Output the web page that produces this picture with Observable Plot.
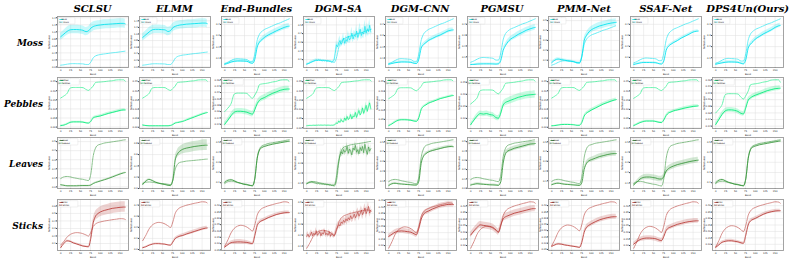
<!DOCTYPE html>
<html><head><meta charset="utf-8">
<script src="https://cdn.jsdelivr.net/npm/d3@7"></script>
<script src="https://cdn.jsdelivr.net/npm/@observablehq/plot@0.6"></script>
<style>
body{margin:0;background:#fff;}
#fig{position:relative;width:793px;height:258px;overflow:hidden;background:#fff;}
.ct{position:absolute;font-family:"DejaVu Serif";font-weight:bold;font-style:italic;font-size:10px;white-space:nowrap;transform:translate(-50%,-50%);color:#000;}
.rl{position:absolute;font-family:"DejaVu Serif";font-weight:bold;font-style:italic;font-size:9px;white-space:nowrap;transform:translate(-100%,-50%);color:#000;}
.panel{position:absolute;}
.panel svg{overflow:visible;}
</style></head><body><div id="fig"></div><script>
const methods = ["SCLSU","ELMM","End-Bundles","DGM-SA","DGM-CNN","PGMSU","PMM-Net","SSAF-Net","DPS4Un(Ours)"];
const materials = ["Moss","Pebbles","Leaves","Sticks"];
const colors = ["#00e3ee","#00ec78","#36963a","#b83a36"];
const xTicks = [0,25,50,75,100,125,150];
const bands = [0,8,16,24,32,40,48,56,64,70,76,82,88,94,100,110,120,130,140,150,158,163];
const denseBands = [0,3,6,9,12,15,18,21,24,27,30,33,36,39,42,45,48,51,54,57,60,63,66,69,72,75,78,81,84,87,90,93,96,99,102,105,108,111,114,117,120,123,126,129,132,135,138,141,144,147,150,153,156,159,162];

// ground-truth mean spectra
const gtMoss = [0.050,0.062,0.078,0.090,0.094,0.092,0.090,0.086,0.070,0.070,0.138,0.258,0.314,0.338,0.354,0.370,0.386,0.402,0.414,0.430,0.442,0.450];
const gtPebbles = [0.160,0.171,0.185,0.215,0.218,0.218,0.218,0.217,0.207,0.202,0.212,0.226,0.245,0.247,0.248,0.250,0.253,0.255,0.259,0.260,0.260,0.253];
const gtLeaves = [0.0925,0.1105,0.115,0.1105,0.1015,0.0948,0.088,0.0835,0.0745,0.070,0.142,0.340,0.430,0.4615,0.4705,0.484,0.4908,0.4975,0.5043,0.511,0.5178,0.520];
const gtSticks = [0.080,0.129,0.185,0.220,0.2375,0.2445,0.241,0.2305,0.213,0.199,0.248,0.325,0.360,0.3775,0.3863,0.3985,0.4073,0.416,0.423,0.430,0.4283,0.4195];

// Moss estimates
const moss_SCLSU = [0.860,0.936,1.012,1.058,1.065,1.065,1.058,1.043,1.005,1.027,1.103,1.149,1.172,1.187,1.195,1.210,1.217,1.225,1.233,1.240,1.240,1.225];
const moss_SCLSU_sd = [0.10,0.11,0.12,0.12,0.12,0.12,0.12,0.12,0.12,0.12,0.13,0.13,0.13,0.13,0.13,0.13,0.13,0.13,0.13,0.13,0.13,0.13];
const moss_ELMM = [0.894,0.977,1.059,1.125,1.141,1.141,1.133,1.125,1.075,1.100,1.191,1.232,1.257,1.273,1.281,1.298,1.306,1.314,1.322,1.331,1.331,1.314];
const moss_ELMM_sd = [0.11,0.12,0.13,0.13,0.13,0.13,0.13,0.13,0.13,0.13,0.13,0.13,0.13,0.13,0.13,0.13,0.13,0.13,0.13,0.13,0.13,0.13];
const moss_EndB = [0.044,0.053,0.064,0.071,0.074,0.074,0.073,0.071,0.058,0.053,0.089,0.197,0.243,0.265,0.283,0.306,0.324,0.342,0.358,0.373,0.382,0.385];
const moss_EndB_sd = [0.008,0.010,0.012,0.013,0.013,0.013,0.013,0.012,0.011,0.011,0.014,0.018,0.020,0.021,0.022,0.022,0.023,0.023,0.023,0.023,0.023,0.023];
const moss_DGMSA = [0.046,0.052,0.057,0.068,0.074,0.080,0.085,0.091,0.097,0.091,0.097,0.091,0.094,0.085,0.091,0.085,0.088,0.080,0.085,0.080,0.083,0.074,0.080,0.091,0.170,0.271,0.248,0.293,0.321,0.276,0.304,0.349,0.287,0.332,0.310,0.372,0.327,0.349,0.405,0.338,0.383,0.366,0.428,0.355,0.400,0.450,0.377,0.416,0.394,0.484,0.405,0.456,0.422,0.495,0.416];
const moss_DGMSA_sd = [0.010,0.010,0.011,0.012,0.012,0.013,0.013,0.013,0.014,0.013,0.013,0.012,0.012,0.012,0.012,0.011,0.011,0.011,0.011,0.010,0.010,0.010,0.010,0.012,0.03,0.045,0.035,0.04,0.055,0.035,0.045,0.06,0.04,0.05,0.04,0.065,0.045,0.05,0.07,0.045,0.055,0.05,0.07,0.05,0.06,0.075,0.05,0.06,0.055,0.075,0.055,0.065,0.06,0.075,0.06];
const moss_DGMCNN = [0.044,0.051,0.058,0.062,0.065,0.065,0.064,0.062,0.053,0.051,0.089,0.188,0.220,0.238,0.256,0.274,0.292,0.306,0.324,0.342,0.349,0.351];
const moss_DGMCNN_sd = [0.008,0.009,0.010,0.011,0.011,0.011,0.011,0.010,0.010,0.010,0.012,0.015,0.016,0.017,0.017,0.018,0.018,0.018,0.018,0.018,0.018,0.018];
const moss_PGMSU = [0.029,0.030,0.033,0.034,0.035,0.035,0.035,0.034,0.033,0.035,0.067,0.159,0.205,0.238,0.261,0.284,0.307,0.325,0.344,0.358,0.367,0.371];
const moss_PGMSU_sd = [0.006,0.007,0.008,0.008,0.008,0.008,0.008,0.008,0.008,0.008,0.012,0.018,0.021,0.023,0.024,0.025,0.026,0.026,0.026,0.026,0.026,0.026];
const moss_PMM = [0.075,0.101,0.112,0.106,0.101,0.095,0.090,0.084,0.076,0.074,0.134,0.297,0.352,0.385,0.407,0.428,0.445,0.456,0.467,0.475,0.480,0.483];
const moss_PMM_sd = [0.010,0.012,0.013,0.013,0.012,0.012,0.012,0.011,0.011,0.011,0.015,0.025,0.030,0.032,0.033,0.034,0.035,0.035,0.035,0.035,0.035,0.035];
const moss_SSAF = [0.035,0.042,0.049,0.053,0.053,0.053,0.052,0.051,0.042,0.039,0.067,0.164,0.201,0.219,0.233,0.252,0.275,0.293,0.311,0.330,0.337,0.339];
const moss_SSAF_sd = [0.006,0.007,0.008,0.008,0.008,0.008,0.008,0.008,0.007,0.007,0.008,0.010,0.011,0.011,0.011,0.012,0.012,0.012,0.012,0.012,0.012,0.012];
const moss_DPS = [0.041,0.048,0.054,0.059,0.062,0.062,0.061,0.059,0.050,0.045,0.082,0.186,0.223,0.245,0.268,0.291,0.314,0.332,0.350,0.373,0.386,0.391];
const moss_DPS_sd = [0.008,0.009,0.010,0.011,0.011,0.011,0.011,0.010,0.010,0.010,0.012,0.015,0.017,0.018,0.018,0.019,0.019,0.019,0.019,0.019,0.019,0.019];

// Pebbles estimates
const peb_SCLSU = [0.0079,0.0106,0.0175,0.0257,0.0284,0.0284,0.0284,0.0271,0.0230,0.0216,0.0312,0.0504,0.0558,0.0586,0.0613,0.0682,0.0750,0.0805,0.0860,0.0915,0.0942,0.0942];
const peb_SCLSU_sd = [0.003,0.003,0.003,0.004,0.004,0.004,0.004,0.004,0.004,0.004,0.004,0.005,0.006,0.006,0.006,0.007,0.007,0.007,0.007,0.007,0.007,0.007];
const peb_ELMM = [0.0120,0.0093,0.0079,0.0079,0.0079,0.0079,0.0079,0.0079,0.0079,0.0093,0.0147,0.0230,0.0257,0.0284,0.0312,0.0394,0.0476,0.0558,0.0641,0.0723,0.0778,0.0805];
const peb_ELMM_sd = [0.002,0.002,0.002,0.002,0.002,0.002,0.002,0.002,0.002,0.002,0.002,0.003,0.003,0.003,0.003,0.003,0.004,0.004,0.004,0.004,0.004,0.004];
const peb_EndB = [0.120,0.133,0.147,0.158,0.161,0.161,0.160,0.158,0.154,0.152,0.166,0.185,0.196,0.201,0.204,0.211,0.217,0.222,0.227,0.230,0.231,0.231];
const peb_EndB_sd = [0.006,0.007,0.008,0.009,0.009,0.009,0.009,0.009,0.009,0.009,0.009,0.009,0.009,0.009,0.009,0.009,0.009,0.009,0.009,0.009,0.009,0.009];
const peb_DGMSA = [0.0106,0.0115,0.0120,0.0125,0.0120,0.0128,0.0134,0.0125,0.0136,0.0131,0.0139,0.0134,0.0142,0.0136,0.0134,0.0142,0.0136,0.0131,0.0139,0.0134,0.0128,0.0136,0.0131,0.0147,0.0175,0.0257,0.0230,0.0367,0.0284,0.0449,0.0339,0.0312,0.0531,0.0394,0.0613,0.0449,0.0504,0.0723,0.0476,0.0641,0.0586,0.0832,0.0558,0.0750,0.0942,0.0695,0.0805,0.1079,0.0778,0.0969,0.1216,0.0887,0.1134,0.1353,0.1024];
const peb_DGMSA_sd = [0.002,0.002,0.002,0.002,0.002,0.002,0.002,0.002,0.002,0.002,0.002,0.002,0.002,0.002,0.002,0.002,0.002,0.002,0.002,0.002,0.002,0.002,0.002,0.002,0.003,0.005,0.004,0.008,0.005,0.009,0.006,0.006,0.011,0.007,0.012,0.008,0.009,0.013,0.008,0.012,0.010,0.015,0.010,0.013,0.016,0.011,0.013,0.017,0.012,0.015,0.018,0.013,0.016,0.018,0.014];
const peb_DGMCNN = [0.0167,0.0257,0.0367,0.0449,0.0476,0.0476,0.0471,0.0449,0.0408,0.0394,0.0586,0.1024,0.1189,0.1271,0.1353,0.1435,0.1517,0.1600,0.1654,0.1709,0.1750,0.1764];
const peb_DGMCNN_sd = [0.003,0.003,0.004,0.004,0.004,0.004,0.004,0.004,0.004,0.004,0.004,0.005,0.005,0.005,0.005,0.005,0.005,0.005,0.005,0.005,0.005,0.005];
const peb_PGMSU = [0.0737,0.0927,0.1095,0.1200,0.1179,0.1200,0.1158,0.1137,0.1032,0.1011,0.1222,0.1558,0.1664,0.1706,0.1748,0.1811,0.1874,0.1916,0.1958,0.1979,0.1990,0.2000];
const peb_PGMSU_sd = [0.006,0.008,0.010,0.011,0.011,0.011,0.011,0.011,0.011,0.011,0.012,0.013,0.014,0.014,0.015,0.015,0.015,0.015,0.015,0.015,0.015,0.015];
const peb_PMM = [0.0079,0.0093,0.0120,0.0147,0.0153,0.0153,0.0147,0.0134,0.0106,0.0106,0.0257,0.0613,0.0778,0.0860,0.0942,0.1052,0.1161,0.1271,0.1353,0.1435,0.1490,0.1517];
const peb_PMM_sd = [0.002,0.002,0.002,0.002,0.002,0.002,0.002,0.002,0.002,0.002,0.004,0.006,0.007,0.007,0.008,0.008,0.008,0.008,0.008,0.008,0.008,0.008];
const peb_SSAF = [0.0120,0.0202,0.0284,0.0339,0.0367,0.0367,0.0367,0.0339,0.0298,0.0284,0.0421,0.0668,0.0805,0.0860,0.0915,0.0969,0.1024,0.1079,0.1120,0.1161,0.1175,0.1189];
const peb_SSAF_sd = [0.003,0.003,0.004,0.004,0.004,0.004,0.004,0.004,0.004,0.004,0.005,0.006,0.007,0.007,0.007,0.007,0.008,0.008,0.008,0.008,0.008,0.008];
const peb_DPS = [0.1249,0.1402,0.1554,0.1661,0.1692,0.1692,0.1676,0.1646,0.1585,0.1570,0.1753,0.1982,0.2058,0.2104,0.2135,0.2180,0.2226,0.2272,0.2303,0.2333,0.2341,0.2348];
const peb_DPS_sd = [0.005,0.006,0.007,0.007,0.007,0.007,0.007,0.007,0.007,0.007,0.007,0.007,0.007,0.007,0.007,0.007,0.007,0.007,0.007,0.007,0.007,0.007];

// Leaves estimates
const leaf_SCLSU = [0.0228,0.0173,0.0117,0.0117,0.0117,0.0117,0.0134,0.0145,0.0145,0.0145,0.0200,0.0367,0.0478,0.0562,0.0645,0.0784,0.0923,0.1089,0.1256,0.1423,0.1534,0.1589];
const leaf_SCLSU_sd = [0.004,0.004,0.004,0.004,0.004,0.004,0.004,0.004,0.004,0.004,0.004,0.004,0.005,0.005,0.005,0.005,0.005,0.005,0.006,0.006,0.006,0.006];
const leaf_ELMM = [0.070,0.1315,0.160,0.141,0.1126,0.0936,0.0794,0.070,0.0558,0.0510,0.1505,0.5008,0.6145,0.6618,0.6902,0.7139,0.7281,0.7423,0.7518,0.7613,0.766,0.766];
const leaf_ELMM_sd = [0.010,0.012,0.012,0.010,0.010,0.010,0.010,0.010,0.010,0.010,0.020,0.050,0.070,0.075,0.080,0.085,0.090,0.090,0.090,0.095,0.095,0.095];
const leaf_EndB = [0.104,0.1235,0.1284,0.1186,0.1041,0.0943,0.0846,0.0797,0.0724,0.0700,0.1381,0.3376,0.4203,0.4446,0.4543,0.4665,0.4762,0.4835,0.4908,0.4981,0.5030,0.5054];
const leaf_EndB_sd = [0.004,0.005,0.005,0.005,0.004,0.004,0.004,0.004,0.004,0.004,0.006,0.008,0.007,0.006,0.006,0.006,0.006,0.006,0.006,0.006,0.006,0.006];
const leaf_DGMSA = [0.0916,0.0970,0.1024,0.1051,0.1078,0.1051,0.1024,0.0997,0.0970,0.0916,0.0943,0.0889,0.0916,0.0862,0.0889,0.0835,0.0862,0.0808,0.0835,0.0781,0.0808,0.0754,0.0781,0.0754,0.0916,0.1563,0.2533,0.3180,0.3773,0.4150,0.3935,0.4366,0.4096,0.4258,0.4689,0.3988,0.4420,0.4204,0.3827,0.4527,0.4312,0.4797,0.4096,0.4366,0.3935,0.4581,0.4258,0.4689,0.4042,0.4905,0.4312,0.3881,0.4635,0.4204,0.4473];
const leaf_DGMSA_sd = [0.008,0.008,0.009,0.009,0.009,0.009,0.009,0.009,0.008,0.008,0.008,0.008,0.008,0.008,0.008,0.008,0.008,0.008,0.008,0.008,0.008,0.008,0.008,0.008,0.010,0.020,0.030,0.032,0.035,0.040,0.030,0.045,0.035,0.030,0.045,0.035,0.040,0.030,0.035,0.045,0.030,0.045,0.035,0.040,0.030,0.045,0.035,0.040,0.035,0.045,0.030,0.035,0.045,0.030,0.040];
const leaf_DGMCNN = [0.0517,0.0700,0.0753,0.0700,0.0674,0.0648,0.0622,0.0596,0.0569,0.0569,0.0962,0.2794,0.3526,0.3788,0.3945,0.4102,0.4207,0.4311,0.4416,0.4494,0.4520,0.4494];
const leaf_DGMCNN_sd = [0.006,0.007,0.007,0.007,0.006,0.006,0.006,0.006,0.006,0.006,0.008,0.012,0.012,0.012,0.012,0.012,0.012,0.012,0.012,0.012,0.012,0.012];
const leaf_PGMSU = [0.0330,0.0416,0.0473,0.0444,0.0416,0.0387,0.0359,0.0347,0.0330,0.0302,0.0700,0.2694,0.3719,0.4004,0.4118,0.4289,0.4403,0.4517,0.4631,0.4745,0.4773,0.4802];
const leaf_PGMSU_sd = [0.008,0.009,0.010,0.010,0.009,0.009,0.009,0.009,0.009,0.009,0.012,0.020,0.022,0.023,0.024,0.025,0.025,0.025,0.025,0.025,0.025,0.025];
const leaf_PMM = [0.0596,0.0700,0.0753,0.0700,0.0648,0.0622,0.0596,0.0569,0.0543,0.0517,0.0805,0.2166,0.2794,0.3055,0.3160,0.3317,0.3474,0.3578,0.3683,0.3762,0.3788,0.3788];
const leaf_PMM_sd = [0.006,0.007,0.008,0.008,0.007,0.007,0.007,0.007,0.007,0.007,0.010,0.018,0.022,0.024,0.025,0.026,0.026,0.026,0.026,0.026,0.026,0.026];
const leaf_SSAF = [0.0797,0.1087,0.1378,0.1523,0.1571,0.1571,0.1523,0.1474,0.1378,0.1378,0.1620,0.2152,0.2394,0.2539,0.2636,0.2781,0.2878,0.2975,0.3071,0.3144,0.3192,0.3216];
const leaf_SSAF_sd = [0.012,0.016,0.020,0.024,0.026,0.027,0.028,0.028,0.028,0.028,0.028,0.028,0.028,0.028,0.028,0.028,0.028,0.028,0.028,0.028,0.028,0.028];
const leaf_DPS = [0.0995,0.1241,0.1314,0.1192,0.1044,0.0946,0.0847,0.0798,0.0724,0.0700,0.1388,0.3355,0.4241,0.4487,0.4585,0.4708,0.4782,0.4855,0.4929,0.5003,0.5052,0.5077];
const leaf_DPS_sd = [0.004,0.004,0.004,0.004,0.004,0.004,0.004,0.004,0.004,0.004,0.005,0.006,0.005,0.005,0.005,0.005,0.005,0.005,0.005,0.005,0.005,0.005];

// Sticks estimates
const stick_SCLSU = [0.0457,0.1006,0.1349,0.1280,0.1075,0.0937,0.0800,0.0663,0.0594,0.0560,0.1692,0.3750,0.4642,0.4985,0.5191,0.5396,0.5534,0.5671,0.5739,0.5808,0.5842,0.5842];
const stick_SCLSU_sd = [0.008,0.010,0.012,0.012,0.012,0.012,0.012,0.012,0.012,0.012,0.030,0.050,0.060,0.065,0.065,0.068,0.068,0.070,0.070,0.070,0.070,0.070];
const stick_ELMM = [0.0160,0.0251,0.0389,0.0480,0.0526,0.0526,0.0503,0.0480,0.0411,0.0389,0.0663,0.0983,0.1121,0.1212,0.1258,0.1395,0.1509,0.1624,0.1738,0.1853,0.1921,0.1944];
const stick_ELMM_sd = [0.004,0.004,0.005,0.005,0.005,0.005,0.005,0.005,0.005,0.005,0.007,0.010,0.012,0.013,0.013,0.014,0.015,0.015,0.016,0.016,0.016,0.016];
const stick_EndB = [0.0721,0.0919,0.1077,0.1116,0.1136,0.1136,0.1116,0.1096,0.1037,0.0998,0.1630,0.2421,0.2698,0.2817,0.2896,0.3054,0.3173,0.3292,0.3371,0.3430,0.3450,0.3450];
const stick_EndB_sd = [0.008,0.010,0.014,0.018,0.020,0.020,0.018,0.016,0.014,0.012,0.014,0.014,0.013,0.012,0.012,0.012,0.012,0.012,0.012,0.012,0.012,0.012];
const stick_DGMSA = [0.1888,0.2077,0.1841,0.1983,0.2267,0.1935,0.2172,0.2030,0.2408,0.1983,0.2125,0.2314,0.1935,0.2219,0.2077,0.2456,0.2030,0.2172,0.1983,0.2314,0.1888,0.2125,0.2030,0.1888,0.2172,0.2550,0.2787,0.2976,0.2834,0.3213,0.3071,0.3354,0.3165,0.3496,0.3307,0.3591,0.3402,0.3780,0.3496,0.3638,0.3922,0.3591,0.3827,0.4111,0.3733,0.3969,0.4300,0.3875,0.4111,0.4490,0.3969,0.4253,0.4632,0.4017,0.4300];
const stick_DGMSA_sd = [0.020,0.025,0.020,0.030,0.022,0.030,0.020,0.025,0.030,0.020,0.025,0.020,0.030,0.022,0.028,0.020,0.030,0.020,0.025,0.020,0.028,0.020,0.024,0.020,0.025,0.030,0.030,0.035,0.030,0.035,0.030,0.040,0.032,0.035,0.040,0.032,0.036,0.042,0.033,0.038,0.035,0.042,0.035,0.040,0.045,0.036,0.040,0.046,0.036,0.040,0.048,0.036,0.042,0.038,0.040];
const stick_DGMCNN = [0.1715,0.1874,0.2033,0.2112,0.2132,0.2112,0.2073,0.2033,0.1914,0.1834,0.2311,0.3027,0.3425,0.3584,0.3664,0.3823,0.3942,0.4061,0.4121,0.4181,0.4181,0.4161];
const stick_DGMCNN_sd = [0.015,0.017,0.019,0.020,0.020,0.020,0.020,0.020,0.020,0.020,0.020,0.020,0.020,0.020,0.020,0.020,0.020,0.020,0.020,0.020,0.020,0.020];
const stick_PGMSU = [0.1795,0.2101,0.2368,0.2560,0.2521,0.2483,0.2445,0.2368,0.2177,0.2024,0.2560,0.3019,0.3172,0.3248,0.3325,0.3439,0.3516,0.3592,0.3669,0.3745,0.3784,0.3784];
const stick_PGMSU_sd = [0.020,0.022,0.024,0.025,0.025,0.025,0.025,0.025,0.025,0.024,0.024,0.024,0.024,0.024,0.024,0.024,0.024,0.024,0.024,0.024,0.024,0.024];
const stick_PMM = [0.0740,0.0860,0.0941,0.0921,0.0860,0.0820,0.0780,0.0740,0.0699,0.0659,0.1061,0.1866,0.2268,0.2429,0.2550,0.2711,0.2852,0.2952,0.3033,0.3093,0.3113,0.3113];
const stick_PMM_sd = [0.005,0.006,0.006,0.006,0.006,0.006,0.006,0.006,0.006,0.006,0.010,0.016,0.019,0.020,0.020,0.020,0.020,0.020,0.020,0.020,0.020,0.020];
const stick_SSAF = [0.1106,0.1297,0.1450,0.1527,0.1565,0.1565,0.1546,0.1508,0.1412,0.1374,0.1680,0.2139,0.2330,0.2407,0.2483,0.2598,0.2674,0.2751,0.2808,0.2846,0.2866,0.2866];
const stick_SSAF_sd = [0.012,0.014,0.016,0.018,0.018,0.018,0.018,0.018,0.018,0.018,0.018,0.018,0.018,0.018,0.018,0.018,0.018,0.018,0.018,0.018,0.018,0.018];
const stick_DPS = [0.0760,0.0958,0.1156,0.1235,0.1275,0.1275,0.1235,0.1195,0.1116,0.1077,0.1710,0.2501,0.2817,0.2936,0.3015,0.3173,0.3331,0.3450,0.3529,0.3588,0.3608,0.3608];
const stick_DPS_sd = [0.006,0.008,0.010,0.011,0.011,0.011,0.011,0.011,0.011,0.011,0.011,0.012,0.012,0.012,0.012,0.012,0.012,0.012,0.012,0.012,0.012,0.012];

const gts = [gtMoss, gtPebbles, gtLeaves, gtSticks];
const estimates = [
  [moss_SCLSU, moss_ELMM, moss_EndB, moss_DGMSA, moss_DGMCNN, moss_PGMSU, moss_PMM, moss_SSAF, moss_DPS],
  [peb_SCLSU, peb_ELMM, peb_EndB, peb_DGMSA, peb_DGMCNN, peb_PGMSU, peb_PMM, peb_SSAF, peb_DPS],
  [leaf_SCLSU, leaf_ELMM, leaf_EndB, leaf_DGMSA, leaf_DGMCNN, leaf_PGMSU, leaf_PMM, leaf_SSAF, leaf_DPS],
  [stick_SCLSU, stick_ELMM, stick_EndB, stick_DGMSA, stick_DGMCNN, stick_PGMSU, stick_PMM, stick_SSAF, stick_DPS]
];
const spreads = [
  [moss_SCLSU_sd, moss_ELMM_sd, moss_EndB_sd, moss_DGMSA_sd, moss_DGMCNN_sd, moss_PGMSU_sd, moss_PMM_sd, moss_SSAF_sd, moss_DPS_sd],
  [peb_SCLSU_sd, peb_ELMM_sd, peb_EndB_sd, peb_DGMSA_sd, peb_DGMCNN_sd, peb_PGMSU_sd, peb_PMM_sd, peb_SSAF_sd, peb_DPS_sd],
  [leaf_SCLSU_sd, leaf_ELMM_sd, leaf_EndB_sd, leaf_DGMSA_sd, leaf_DGMCNN_sd, leaf_PGMSU_sd, leaf_PMM_sd, leaf_SSAF_sd, leaf_DPS_sd],
  [stick_SCLSU_sd, stick_ELMM_sd, stick_EndB_sd, stick_DGMSA_sd, stick_DGMCNN_sd, stick_PGMSU_sd, stick_PMM_sd, stick_SSAF_sd, stick_DPS_sd]
];

// layout
const FW = 71, FH = 51, ML = 11, MR = 1, MT = 1, MB = 9;
const colLeft = c => 57 + 81.9 * c;
const rowTop = [16, 76.7, 137.3, 198.7];
const fig = document.getElementById("fig");

methods.forEach((m, c) => {
  const d = document.createElement("div");
  d.className = "ct"; d.textContent = m;
  d.style.left = (colLeft(c) + FW / 2) + "px"; d.style.top = "8px";
  fig.appendChild(d);
});
materials.forEach((m, r) => {
  const d = document.createElement("div");
  d.className = "rl"; d.textContent = m;
  d.style.left = "43px"; d.style.top = (rowTop[r] + FH / 2 + 1.5) + "px";
  fig.appendChild(d);
});

function drawPanel(r, c) {
  const color = colors[r];
  const gt = gts[r];
  const est = estimates[r][c];
  const sd = spreads[r][c];
  const grid = est.length === denseBands.length ? denseBands : bands;
  const noisy = grid === denseBands;
  const gtData = bands.map((b, i) => ({b, v: gt[i]}));
  const eData = grid.map((b, i) => ({b, v: est[i], lo: est[i] - sd[i], hi: est[i] + sd[i]}));
  const lo = Math.min(d3.min(gt), d3.min(eData, d => d.lo));
  const hi = Math.max(d3.max(gt), d3.max(eData, d => d.hi));
  const pad = (hi - lo) * 0.05;
  const xpad = (163 - 0) * 0.05;
  const curve = noisy ? "linear" : "monotone-x";
  const svg = Plot.plot({
    width: FW + ML + MR, height: FH + MT + MB,
    marginLeft: ML, marginRight: MR, marginTop: MT, marginBottom: MB,
    style: {fontSize: "2.4px", fontFamily: "DejaVu Sans", background: "transparent", color: "#222", overflow: "visible"},
    x: {domain: [0 - xpad, 163 + xpad]},
    y: {domain: [lo - pad, hi + pad]},
    marks: [
      Plot.frame({fill: "white"}),
      Plot.gridX({ticks: xTicks, stroke: "#dedede", strokeOpacity: 1, strokeWidth: 0.5}),
      Plot.gridY({ticks: 6, stroke: "#dedede", strokeOpacity: 1, strokeWidth: 0.5}),
      Plot.areaY(eData, {x: "b", y1: "lo", y2: "hi", fill: color, fillOpacity: 0.22, curve}),
      Plot.lineY(gtData, {x: "b", y: "v", stroke: color, strokeWidth: 0.6, strokeDasharray: "1.6,0.9", curve: "monotone-x"}),
      Plot.lineY(eData, {x: "b", y: "v", stroke: color, strokeWidth: noisy ? 0.6 : 0.85, curve}),
      Plot.axisX({ticks: xTicks, tickSize: 1, tickPadding: 0.6, label: "Band", labelAnchor: "center", labelArrow: "none", labelOffset: 7.6, stroke: "#444"}),
      Plot.axisY({ticks: 6, tickSize: 1, tickPadding: 0.6, label: "Reflectance", labelAnchor: "center", labelArrow: "none", labelOffset: 9.3, stroke: "#444"}),
      Plot.frame({stroke: "#9a9a9a", strokeWidth: 0.9})
    ]
  });
  // legend box (layout decoration, top-left inside frame)
  const name = materials[r];
  const g = d3.select(svg).append("g").attr("transform", `translate(${ML + 1.6},${MT + 1.6})`);
  const w = 6.2 + (name.length + 3) * 1.45;
  g.append("rect").attr("width", w).attr("height", 6.4).attr("rx", 0.6)
    .attr("fill", "white").attr("fill-opacity", 0.85).attr("stroke", "#cfcfcf").attr("stroke-width", 0.3);
  g.append("line").attr("x1", 0.8).attr("x2", 4.8).attr("y1", 1.9).attr("y2", 1.9)
    .attr("stroke", color).attr("stroke-width", 0.8);
  g.append("line").attr("x1", 0.8).attr("x2", 4.8).attr("y1", 4.5).attr("y2", 4.5)
    .attr("stroke", color).attr("stroke-width", 0.6).attr("stroke-dasharray", "1.2,0.7");
  g.append("text").attr("x", 5.6).attr("y", 2.7).attr("font-size", "2.2px").attr("fill", "#222").text(name);
  g.append("text").attr("x", 5.6).attr("y", 5.3).attr("font-size", "2.2px").attr("fill", "#222").text("GT " + name);

  const holder = document.createElement("div");
  holder.className = "panel";
  holder.style.left = (colLeft(c) - ML) + "px";
  holder.style.top = (rowTop[r] - MT) + "px";
  holder.appendChild(svg);
  fig.appendChild(holder);
}

for (let r = 0; r < 4; r++) for (let c = 0; c < 9; c++) drawPanel(r, c);
</script></body></html>
